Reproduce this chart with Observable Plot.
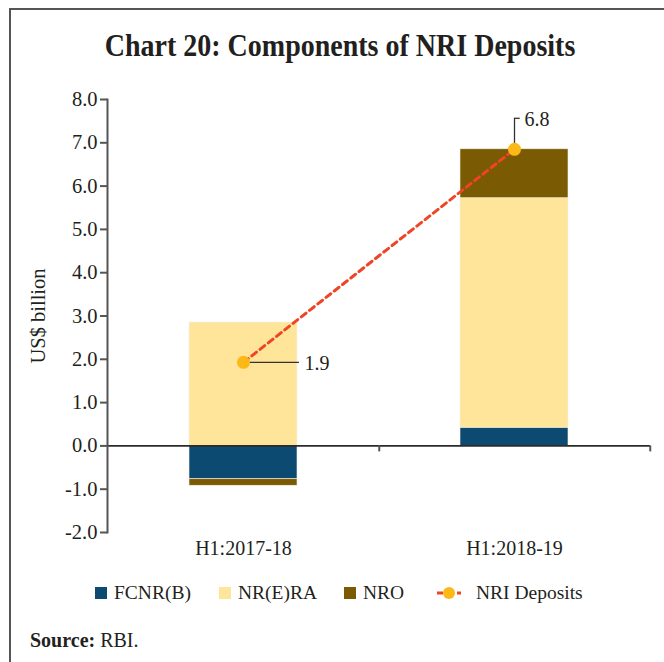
<!DOCTYPE html>
<html>
<head>
<meta charset="utf-8">
<script src="https://cdn.jsdelivr.net/npm/d3@7"></script>
<script src="https://cdn.jsdelivr.net/npm/@observablehq/plot@0.6"></script>
<style>
  html, body { margin: 0; padding: 0; background: #fff; }
  body { width: 664px; height: 662px; position: relative; overflow: hidden; font-family: "Liberation Serif", serif; color: #231f20; }
  #frame { position: absolute; left: 9px; top: 8px; right: -4px; bottom: -4px; border-top: 2px solid #555; border-left: 2px solid #555; }
  #title { position: absolute; left: 16px; width: 648px; top: 33px; font-size: 28px; line-height: 28px; font-weight: bold; text-align: center; white-space: nowrap; transform: scaleY(1.1); transform-origin: 50% 85%; }
  #chart { position: absolute; left: 0; top: 80px; }
  .lg { position: absolute; top: 582px; height: 22px; display: flex; align-items: center; font-size: 19.5px; white-space: nowrap; }
  .sw { width: 12px; height: 12px; display: inline-block; margin-right: 7px; }
  #source { position: absolute; left: 30px; top: 629px; font-size: 20px; line-height: 22px; }
</style>
</head>
<body>
<div id="frame"></div>
<div id="title">Chart 20: Components of NRI Deposits</div>
<div id="chart"></div>
<div id="legend"></div>
<div id="source"><b>Source:</b> RBI.</div>
<script>
// ---- data ----
const categories = ["H1:2017-18", "H1:2018-19"];
const seriesNames = ["FCNR(B)", "NR(E)RA", "NRO"];
const fcnrB = [-0.77, 0.42];
const nrera = [2.85, 5.30];
const nro = [-0.15, 1.13];
const nriDeposits = [1.93, 6.85];
const nriLabels = ["1.9", "6.8"];
const yTicks = [-2, -1, 0, 1, 2, 3, 4, 5, 6, 7, 8];
const lineName = "NRI Deposits";

// ---- styles ----
const colors = ["#0c4a72", "#ffe599", "#7a5a02"];
const lineColor = "#ef4426";
const dotColor = "#fbb817";

const W = 664, H = 492, mL = 107, mR = 14, mT = 19, mB = 40;
const padIn = 0.6, padOut = 0.3;
const step = (W - mL - mR) / (categories.length - padIn + 2 * padOut);
const bw = step * (1 - padIn);

const seriesValues = [fcnrB, nrera, nro];
const bars = [];
seriesNames.forEach((s, si) => categories.forEach((c, ci) => bars.push({cat: c, series: s, value: seriesValues[si][ci]})));
const nri = categories.map((c, i) => ({cat: c, value: nriDeposits[i], label: nriLabels[i]}));

const chart = Plot.plot({
  width: W, height: H,
  marginLeft: mL, marginRight: mR, marginTop: mT, marginBottom: mB,
  style: {fontFamily: "Liberation Serif", fontSize: "20px", color: "#231f20", background: "transparent"},
  x: {domain: categories, paddingInner: padIn, paddingOuter: padOut, label: null},
  y: {domain: [-2, 8], label: null},
  color: {domain: seriesNames, range: colors},
  marks: [
    Plot.barY(bars, {x: "cat", y: "value", fill: "series", z: "series", order: null, stroke: "#f4f1e8", strokeWidth: 0.6}),
    Plot.ruleY([0], {stroke: "#2b2b2b", strokeWidth: 1.8}),
    Plot.ruleX(categories, {x: d => d, y1: 0, y2: 0, dx: step / 2, insetBottom: -6, stroke: "#555", strokeWidth: 2}),
    Plot.frame({anchor: "left", stroke: "#555", strokeWidth: 2}),
    Plot.axisY({ticks: yTicks, tickFormat: d => d.toFixed(1), tickSize: 7, tickPadding: 3, stroke: "#555", strokeWidth: 2,
      fontSize: 20.5, label: "US$ billion", labelAnchor: "center", labelArrow: "none", labelOffset: 77}),
    Plot.axisX({tickSize: 0, tickPadding: 8}),
    Plot.line(nri, {x: "cat", y: "value", stroke: lineColor, strokeWidth: 3, strokeDasharray: "6,4.5"}),
    // leader for first label
    Plot.ruleY(nri.slice(0, 1), {x1: "cat", x2: "cat", y: "value", insetLeft: bw / 2, insetRight: -2, stroke: "#333", strokeWidth: 1.3}),
    Plot.text(nri.slice(0, 1), {x: "cat", y: "value", text: "label", dx: 61, dy: 1, textAnchor: "start", fill: "#231f20", fontSize: 20}),
    // leader for second label
    Plot.ruleX(nri.slice(1, 2), {x: "cat", y1: "value", y2: "value", insetTop: -31, stroke: "#333", strokeWidth: 1.3}),
    Plot.ruleY(nri.slice(1, 2), {x1: "cat", x2: "cat", y: "value", dy: -31, insetLeft: bw / 2, insetRight: bw / 2 - 6, stroke: "#333", strokeWidth: 1.3}),
    Plot.text(nri.slice(1, 2), {x: "cat", y: "value", text: "label", dx: 10, dy: -30, textAnchor: "start", fill: "#231f20", fontSize: 20}),
    Plot.dot(nri, {x: "cat", y: "value", r: 6.5, fill: dotColor, stroke: "none"})
  ]
});
document.getElementById("chart").appendChild(chart);

// ---- legend ----
const legend = document.getElementById("legend");
const lgX = [95, 219, 344];
seriesNames.forEach((s, i) => {
  const d = document.createElement("div");
  d.className = "lg";
  d.style.left = lgX[i] + "px";
  d.innerHTML = `<span class="sw" style="background:${colors[i]}"></span><span>${s}</span>`;
  legend.appendChild(d);
});
const dl = document.createElement("div");
dl.className = "lg";
dl.style.left = "436px";
dl.innerHTML = `<svg width="26" height="14" style="margin-right:14px"><line x1="1" y1="7" x2="25" y2="7" stroke="${lineColor}" stroke-width="3" stroke-dasharray="6,4"/><circle cx="13" cy="7" r="6" fill="${dotColor}"/></svg><span>${lineName}</span>`;
legend.appendChild(dl);
</script>
</body>
</html>
